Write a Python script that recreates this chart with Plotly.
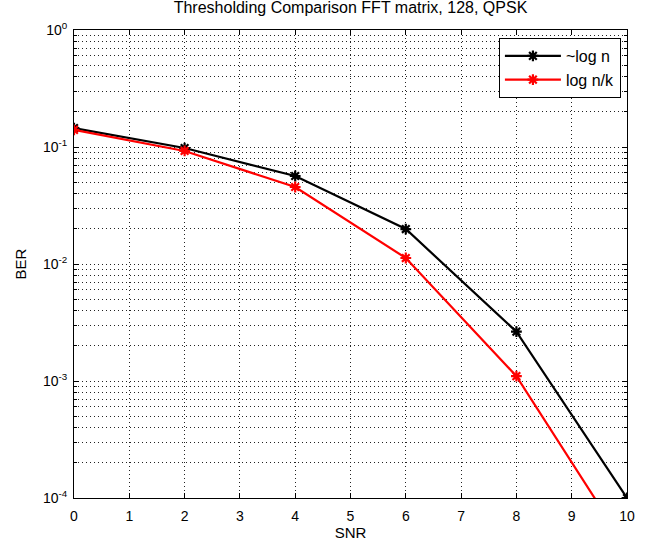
import plotly.graph_objects as go

snr = [0, 2, 4, 6, 8, 10]
ber_logn = [0.145, 0.098, 0.0565, 0.0199, 0.00264, 0.0001]
ber_lognk = [0.140, 0.0925, 0.0455, 0.01125, 0.0011, 0.000037]
names = ["~log n", "log n/k"]
colors = ["black", "red"]
title = "Thresholding Comparison FFT matrix, 128, QPSK"
xticks = list(range(0, 11))
yticks = [1e-4, 1e-3, 1e-2, 1e-1, 1]
yticklabels = ["10<sup>-4</sup>", "10<sup>-3</sup>", "10<sup>-2</sup>", "10<sup>-1</sup>", "10<sup>0</sup>"]

fig = go.Figure()
for name, ys, c in zip(names, [ber_logn, ber_lognk], colors):
    fig.add_trace(go.Scatter(
        x=snr, y=ys, name=name, mode="lines+markers",
        line=dict(color=c, width=2.2),
        marker=dict(symbol="asterisk-open", size=9, color=c, line=dict(color=c, width=2.2)),
        cliponaxis=True,
    ))

font = dict(family="Liberation Sans, Arial, sans-serif", size=14, color="black")
grid = dict(showgrid=True, gridcolor="#222222", griddash="1px,3px", gridwidth=1)
fig.update_layout(
    width=658, height=541,
    margin=dict(l=74, r=31, t=30, b=43),
    paper_bgcolor="white", plot_bgcolor="white",
    font=font,
    title=dict(text=title, x=0.5, xanchor="center", y=0.996, yanchor="top",
               font=dict(size=16), xref="paper"),
    showlegend=True,
    legend=dict(x=0.989, y=0.983, xanchor="right", yanchor="top",
                bordercolor="black", borderwidth=1, bgcolor="white",
                font=dict(size=16), itemwidth=56, tracegroupgap=0),
)
fig.update_xaxes(
    range=[0, 10], tickvals=xticks, ticktext=[str(v) for v in xticks],
    showline=True, linecolor="black", linewidth=1, mirror="ticks",
    ticks="inside", ticklen=5, tickcolor="black", ticklabelstandoff=5,
    zeroline=False, title=dict(text="SNR", standoff=2, font=dict(size=15)),
    automargin=False,
    **grid,
)
fig.update_yaxes(
    type="log", range=[-4, 0], tickvals=yticks, ticktext=yticklabels,
    showline=True, linecolor="black", linewidth=1, mirror="ticks",
    ticks="inside", ticklen=5, tickcolor="black", ticklabelstandoff=3,
    minor=dict(ticks="inside", ticklen=3, tickcolor="black", showgrid=True,
               gridcolor="#222222", griddash="1px,3px", gridwidth=1, dtick="D1"),
    zeroline=False, title=dict(text="BER", standoff=12, font=dict(size=15)),
    automargin=False,
    **grid,
)
fig.write_html("out.html")
